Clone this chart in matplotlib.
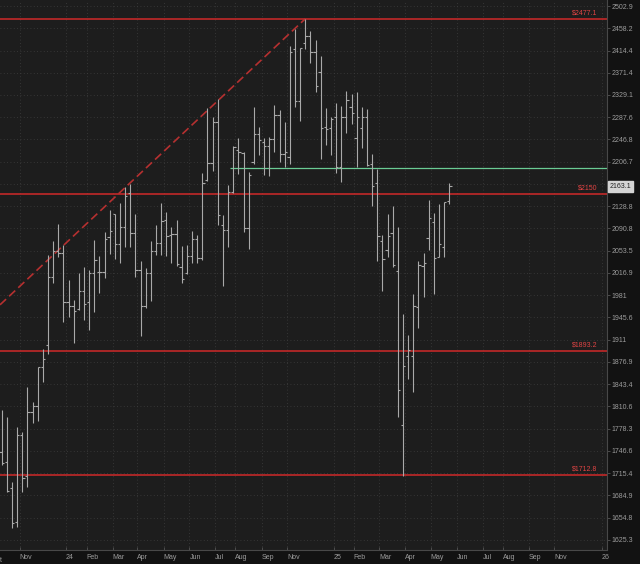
import numpy as np
import matplotlib.pyplot as plt

# weekly OHLC bars, week of Oct 9 2023 .. week of Jun 9 2025 (88 bars)
opens = [1745.2, 1731.2, 1694.2, 1649.1, 1769.1, 1710.9, 1802.8, 1811.6, 1868.6, 1902.6,
         2010.7, 2052.9, 2049.0, 1969.4, 1963.5, 1958.3, 1987.5, 1969.4, 2016.1, 2017.8,
         2017.8, 2076.2, 2114.6, 2063.9, 2092.5, 2150.9, 2083.6, 2021.6, 1964.1, 2017.2,
         2053.4, 2067.0, 2105.3, 2080.0, 2081.7, 2027.3, 2016.0, 2045.0, 2073.3, 2041.2,
         2174.5, 2205.2, 2278.0, 2096.8, 2088.4, 2153.0, 2228.0, 2222.0, 2091.0, 2207.0,
         2257.0, 2243.0, 2235.0, 2248.0, 2291.0, 2220.7, 2214.9, 2416.8, 2317.9, 2428.6,
         2443.6, 2410.9, 2371.9, 2270.2, 2267.2, 2287.6, 2198.0, 2287.6, 2306.1, 2249.1,
         2267.2, 2288.7, 2202.9, 2169.8, 2068.8, 2054.9, 2083.9, 2020.8, 1783.8, 1886.2,
         1886.2, 1962.8, 2028.5, 2074.4, 2102.5, 2043.8, 2060.3, 2137.8]
highs = [1805.1, 1794.4, 1703.3, 1781.1, 1772.9, 1839.6, 1817.4, 1869.5, 1895.9, 2046.3,
         2070.1, 2097.6, 2062.9, 2005.3, 1973.1, 2017.2, 2025.9, 2021.6, 2071.2, 2045.2,
         2084.1, 2122.1, 2115.2, 2133.5, 2162.5, 2167.2, 2115.2, 2036.4, 2024.3, 2070.1,
         2096.5, 2134.0, 2119.6, 2094.0, 2105.3, 2061.6, 2063.2, 2086.7, 2080.0, 2187.4,
         2304.2, 2288.0, 2321.0, 2113.8, 2166.0, 2235.0, 2249.0, 2225.0, 2189.0, 2306.0,
         2270.0, 2249.0, 2252.0, 2310.0, 2301.0, 2278.0, 2423.2, 2456.1, 2418.8, 2477.1,
         2452.8, 2435.0, 2403.6, 2304.2, 2287.6, 2313.4, 2308.4, 2336.5, 2331.6, 2334.6,
         2306.1, 2302.4, 2220.7, 2193.4, 2080.0, 2115.6, 2129.3, 2094.0, 1950.8, 1918.5,
         1982.3, 2035.6, 2049.5, 2139.7, 2116.7, 2132.3, 2136.8, 2169.8]
lows = [1726.5, 1689.6, 1640.2, 1642.5, 1689.4, 1696.2, 1785.9, 1789.7, 1846.1, 1888.3,
        2001.0, 2042.4, 1938.9, 1945.7, 1905.2, 1957.2, 1941.5, 1925.8, 1953.5, 1983.8,
        2009.1, 2047.9, 2039.7, 2032.5, 2060.1, 2059.0, 2010.7, 1917.0, 1959.9, 1972.0,
        2046.3, 2046.6, 2044.9, 2033.0, 2028.0, 1999.9, 2015.4, 2033.0, 2033.0, 2038.4,
        2172.0, 2190.0, 2096.8, 1995.5, 2060.3, 2151.0, 2185.0, 2084.0, 2057.0, 2202.0,
        2219.0, 2183.0, 2182.0, 2225.0, 2207.0, 2198.0, 2202.4, 2306.1, 2281.3, 2416.8,
        2390.8, 2335.3, 2211.3, 2236.9, 2218.9, 2186.1, 2171.5, 2258.0, 2275.3, 2198.0,
        2230.9, 2199.2, 2129.8, 2035.6, 1986.8, 2042.2, 2027.3, 1794.4, 1710.8, 1850.9,
        1831.1, 1929.7, 1977.8, 2054.9, 1982.3, 2043.8, 2042.9, 2132.9]
closes = [1728.8, 1690.5, 1646.9, 1769.1, 1708.0, 1802.8, 1811.6, 1868.6, 1881.2, 2010.7,
          2052.9, 2049.0, 1969.4, 1963.5, 1956.2, 1987.5, 1966.2, 2016.1, 2037.5, 2017.8,
          2072.3, 2086.9, 2063.9, 2092.5, 2146.2, 2083.6, 2021.6, 1964.1, 2016.1, 2053.4,
          2066.7, 2104.1, 2078.3, 2081.7, 2032.0, 2006.8, 2045.0, 2073.3, 2041.2, 2168.7,
          2205.2, 2278.0, 2113.8, 2088.4, 2153.0, 2233.0, 2225.0, 2091.0, 2184.0, 2257.0,
          2245.0, 2235.0, 2247.0, 2291.0, 2221.0, 2224.8, 2410.9, 2317.9, 2418.8, 2443.6,
          2410.9, 2346.7, 2267.2, 2265.3, 2284.5, 2198.0, 2287.6, 2319.8, 2295.0, 2288.7,
          2288.7, 2201.0, 2164.5, 2078.8, 2040.0, 2078.3, 2030.1, 1835.0, 1869.9, 1895.3,
          1964.4, 2030.1, 2033.9, 2108.2, 2041.2, 2064.5, 2135.8, 2163.1]

# month labels, position in bar units
month_pos = [3.5, 12.5, 16.5, 21.6, 26.3, 31.5, 36.5, 41.5, 45.4, 50.5, 55.5,
             64.5, 68.4, 73.4, 78.4, 83.4, 88.5, 93.6, 97.5, 102.4, 107.4, 116.6]
month_lbl = ['Nov', '24', 'Feb', 'Mar', 'Apr', 'May', 'Jun', 'Jul', 'Aug', 'Sep', 'Nov',
             '25', 'Feb', 'Mar', 'Apr', 'May', 'Jun', 'Jul', 'Aug', 'Sep', 'Nov', '26']

price_ticks = [2502.9, 2458.2, 2414.4, 2371.4, 2329.1, 2287.6, 2246.8, 2206.7, 2167.3,
               2128.8, 2090.8, 2053.5, 2016.9, 1981, 1945.6, 1911, 1876.9, 1843.4,
               1810.6, 1778.3, 1746.6, 1715.4, 1684.9, 1654.8, 1625.3]

levels = [2477.1, 2150, 1893.2, 1712.8]
level_lbl = ['$2477.1', '$2150', '$1893.2', '$1712.8']
green_level = 2195.5
green_from = 44.3
trend_x = [0, 59]
trend_y = [1968, 2477.1]
last_price = 2163.1

X_LO, X_HI = -0.33, 117.65
Y_LO, Y_HI = 1611.9, 2515.1

BG = '#1d1d1d'
FG = '#121212'
TXT = '#9c9c9c'
RED = '#d02a2a'

# ============================================================================
fig = plt.figure(figsize=(6.4, 5.64), dpi=100, facecolor=FG)
ax = fig.add_axes([0, 14/564, 607/640, 550/564])
ax.set_facecolor(BG)
ax.set_yscale('log')
ax.set_xlim(X_LO, X_HI)
ax.set_ylim(Y_LO, Y_HI)

idx = np.arange(len(closes))
bar_col = '#a9a9a9'
ax.vlines(idx, lows, highs, color=bar_col, lw=0.8, zorder=3)
ax.hlines(opens, idx - 0.45, idx, color=bar_col, lw=0.8, zorder=3)
ax.hlines(closes, idx, idx + 0.45, color=bar_col, lw=0.8, zorder=3)

# horizontal levels
for lv, lb in zip(levels, level_lbl):
    ax.axhline(lv, color=RED, lw=1.1, zorder=2)
    ax.annotate(lb, xy=(1, lv), xycoords=('axes fraction', 'data'),
                xytext=(-6.7, 1.8), textcoords='offset points',
                ha='right', va='bottom', color='#e04444', fontsize=5,
                family='Liberation Sans')

ax.hlines(green_level, green_from, X_HI, color='#6acb94', lw=0.9, zorder=2)

# dashed trend line, extended to the left edge
slope = (np.log(trend_y[1]) - np.log(trend_y[0])) / (trend_x[1] - trend_x[0])
y_left = np.exp(np.log(trend_y[0]) + slope * (X_LO - trend_x[0]))
ax.plot([X_LO, trend_x[1]], [y_left, trend_y[1]], color='#b53030', lw=1.2,
        dashes=(5, 2.5), zorder=2)

# axes / ticks
ax.yaxis.tick_right()
ax.set_yticks(price_ticks)
ax.set_yticklabels(['' if p == 2167.3 else f'{p:g}' for p in price_ticks])
ax.yaxis.set_minor_locator(plt.NullLocator())
ax.set_xticks(month_pos)
ax.set_xticklabels(month_lbl, ha='left')
ax.tick_params(axis='y', direction='out', length=2.5, width=0.6, color='#555555',
               labelsize=5, labelcolor=TXT, pad=1)
ax.tick_params(axis='x', direction='in', length=2, width=0.6, color='#555555',
               labelsize=5, labelcolor=TXT, pad=3)
for lbl in ax.get_xticklabels() + ax.get_yticklabels():
    lbl.set_family('Liberation Sans')
# October label sits partly off the left edge, as in the original
ax.text(-1.9, -0.0125, 'Oct', transform=ax.get_xaxis_transform(), ha='left', va='top',
        fontsize=5, color=TXT, family='Liberation Sans', clip_on=False)

ax.grid(True, color='#3e3e3e', linestyle=(0, (1, 3)), linewidth=0.6)
ax.set_axisbelow(True)
for s in ['top', 'left']:
    ax.spines[s].set_visible(False)
for s in ['right', 'bottom']:
    ax.spines[s].set_color('#484848')
    ax.spines[s].set_linewidth(0.8)

# last price box
ax.annotate(f'{last_price}', xy=(1, last_price), xycoords=('axes fraction', 'data'),
            xytext=(2.2, 0), textcoords='offset points', ha='left', va='center',
            fontsize=5, color='#222222', family='Liberation Sans',
            bbox=dict(boxstyle='square,pad=0.25', fc='#d4d4d4', ec='#d4d4d4'))

fig.savefig('out.png', dpi=100, facecolor=FG)
